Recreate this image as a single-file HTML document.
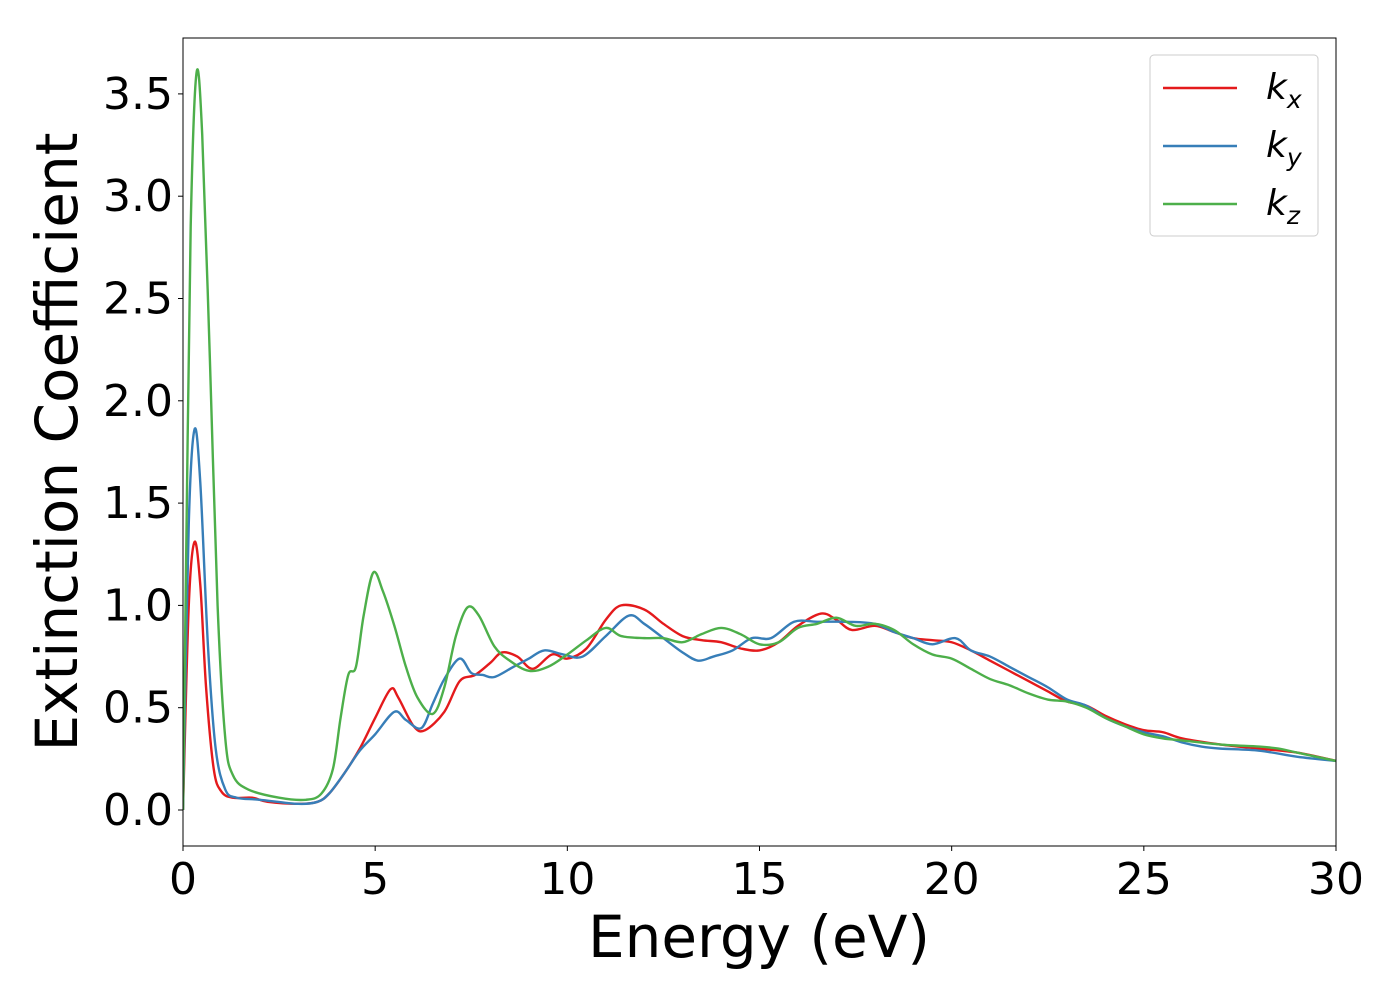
<!DOCTYPE html>
<html><head><meta charset="utf-8"><style>
body{margin:0;background:#fff}
svg text{font-family:"DejaVu Sans","Liberation Sans",sans-serif;fill:#000}
</style></head><body>
<svg width="1400" height="1000" xmlns="http://www.w3.org/2000/svg">
<g id="plot"></g>
</svg>
<script>
const kxE=[0,0.15,0.3,0.45,0.6,0.8,1.0,1.3,1.8,2.2,3,3.5,3.8,4.2,4.6,5.0,5.4,5.6,6.0,6.3,6.8,7.2,7.6,8.0,8.3,8.7,9.1,9.6,10.0,10.5,11.0,11.4,12,12.5,13,13.5,14,14.5,15,15.5,16,16.6,17,17.4,18,18.5,19,19.5,20,20.5,21,21.5,22,22.5,23,23.5,24,24.5,25,25.5,26,27,28,29,30];
const kxV=[0,1.0,1.31,1.1,0.6,0.2,0.09,0.06,0.06,0.04,0.03,0.04,0.08,0.18,0.3,0.45,0.59,0.55,0.41,0.39,0.48,0.63,0.66,0.72,0.77,0.75,0.69,0.76,0.74,0.79,0.93,1.0,0.98,0.91,0.85,0.83,0.82,0.79,0.78,0.82,0.9,0.96,0.93,0.88,0.9,0.87,0.84,0.83,0.82,0.78,0.73,0.68,0.63,0.58,0.53,0.51,0.46,0.42,0.39,0.38,0.35,0.32,0.3,0.28,0.24];
const kyE=[0,0.15,0.3,0.45,0.65,0.85,1.1,1.4,2,3,3.5,3.8,4.2,4.6,5.0,5.5,5.8,6.2,6.5,6.8,7.2,7.5,7.8,8.1,8.6,9.0,9.4,9.9,10.4,11.0,11.6,12,12.5,13,13.4,13.8,14.3,14.8,15.3,15.9,16.5,17.3,18,18.5,19,19.5,20.1,20.5,21,21.5,22,22.5,23,23.5,24,24.5,25,25.5,26,26.5,27,28,29,30];
const kyV=[0,1.4,1.86,1.6,0.8,0.3,0.1,0.06,0.05,0.03,0.04,0.08,0.18,0.29,0.37,0.48,0.44,0.4,0.52,0.64,0.74,0.67,0.66,0.65,0.7,0.74,0.78,0.76,0.75,0.85,0.95,0.91,0.84,0.77,0.73,0.75,0.78,0.84,0.84,0.92,0.92,0.92,0.91,0.87,0.84,0.81,0.84,0.78,0.75,0.7,0.65,0.6,0.54,0.51,0.45,0.41,0.38,0.36,0.33,0.31,0.3,0.29,0.26,0.24];
const kzE=[0,0.1,0.2,0.35,0.5,0.7,0.9,1.1,1.3,1.7,2.5,3.2,3.6,3.9,4.1,4.3,4.5,4.7,4.95,5.2,5.5,5.8,6.1,6.5,6.8,7.1,7.4,7.7,8.1,8.5,9.0,9.5,10,10.5,11.0,11.4,12,12.5,13,13.5,14,14.5,15,15.5,16,16.5,17,17.5,18,18.5,19,19.5,20,20.5,21,21.5,22,22.5,23,23.5,24,24.5,25,25.5,26,27,28,28.5,29,30];
const kzV=[0,1.5,2.85,3.6,3.3,2.2,1.0,0.35,0.17,0.1,0.06,0.05,0.08,0.2,0.45,0.66,0.7,0.95,1.16,1.07,0.9,0.7,0.55,0.47,0.6,0.85,0.99,0.95,0.8,0.73,0.68,0.7,0.76,0.83,0.89,0.85,0.84,0.84,0.82,0.86,0.89,0.86,0.81,0.82,0.89,0.91,0.94,0.9,0.91,0.88,0.81,0.76,0.74,0.69,0.64,0.61,0.57,0.54,0.53,0.5,0.45,0.41,0.37,0.35,0.34,0.32,0.31,0.3,0.28,0.24];
const xTicks=[0,5,10,15,20,25,30];
const yTicks=[0.0,0.5,1.0,1.5,2.0,2.5,3.0,3.5];

const X0=183,X1=1336,Y0=38,Y1=846;
const sx=v=>X0+(v/30)*(X1-X0);
const sy=v=>810-v*204.6;
const NS="http://www.w3.org/2000/svg";
const g=document.getElementById('plot');
function mk(t,a,p){const e=document.createElementNS(NS,t);for(const k in a)e.setAttribute(k,a[k]);(p||g).appendChild(e);return e;}
function pathD(E,V){
  const p=E.map((e,i)=>[sx(e),sy(V[i])]);
  let d=`M${p[0][0]},${p[0][1]}`;
  for(let i=0;i<p.length-1;i++){
    const a=p[Math.max(i-1,0)],b=p[i],c=p[i+1],e=p[Math.min(i+2,p.length-1)];
    const t=6;
    d+=` C${b[0]+(c[0]-a[0])/t},${b[1]+(c[1]-a[1])/t} ${c[0]-(e[0]-b[0])/t},${c[1]-(e[1]-b[1])/t} ${c[0]},${c[1]}`;
  }
  return d;
}
const defs=mk('defs',{});
const cp=mk('clipPath',{id:'clip'},defs);
mk('rect',{x:X0,y:Y0,width:X1-X0,height:Y1-Y0},cp);
const series=[[kxE,kxV,'#e41a1c','kx-line'],[kyE,kyV,'#377eb8','ky-line'],[kzE,kzV,'#4daf4a','kz-line']];
series.forEach(s=>{
  const el=mk('path',{d:pathD(s[0],s[1]),fill:'none',stroke:s[2],'stroke-width':2.4,'clip-path':'url(#clip)'});
  
  
});
const frame=mk('rect',{x:X0,y:Y0,width:X1-X0,height:Y1-Y0,fill:'none',stroke:'#000','stroke-width':1});


xTicks.forEach(v=>{
  mk('line',{x1:sx(v),x2:sx(v),y1:Y1,y2:Y1+5,stroke:'#000'});
  const t=mk('text',{x:sx(v),y:Y1+48,'text-anchor':'middle','font-size':44});
  t.textContent=v;
  
  
});
yTicks.forEach(v=>{
  mk('line',{x1:X0-5,x2:X0,y1:sy(v),y2:sy(v),stroke:'#000'});
  const t=mk('text',{x:X0-10,y:sy(v)+15,'text-anchor':'end','font-size':44});
  t.textContent=v.toFixed(1);
  
  
});
const xl=mk('text',{x:759,y:957,'text-anchor':'middle','font-size':58});
xl.textContent='Energy (eV)';


const yl=mk('text',{x:0,y:0,'text-anchor':'middle','font-size':58,transform:'translate(77,442) rotate(-90)'});
yl.textContent='Extinction Coefficient';


const lg=mk('g',{});


mk('rect',{x:1150,y:55,width:168,height:181,rx:4,fill:'#fff',stroke:'#ccc'},lg);
const subs=['x','y','z'];
series.forEach((s,i)=>{
  const y=88+i*58;
  const ln=mk('line',{x1:1163,x2:1237,y1:y,y2:y,stroke:s[2],'stroke-width':2.4},lg);
  
  
  const t=mk('text',{x:1266,y:y+11,'font-size':36,'font-style':'italic'},lg);
  
  
  t.textContent='k';
  const ts=mk('tspan',{'font-size':25,dy:9},t);
  ts.textContent=subs[i];
});
</script>
</body></html>
